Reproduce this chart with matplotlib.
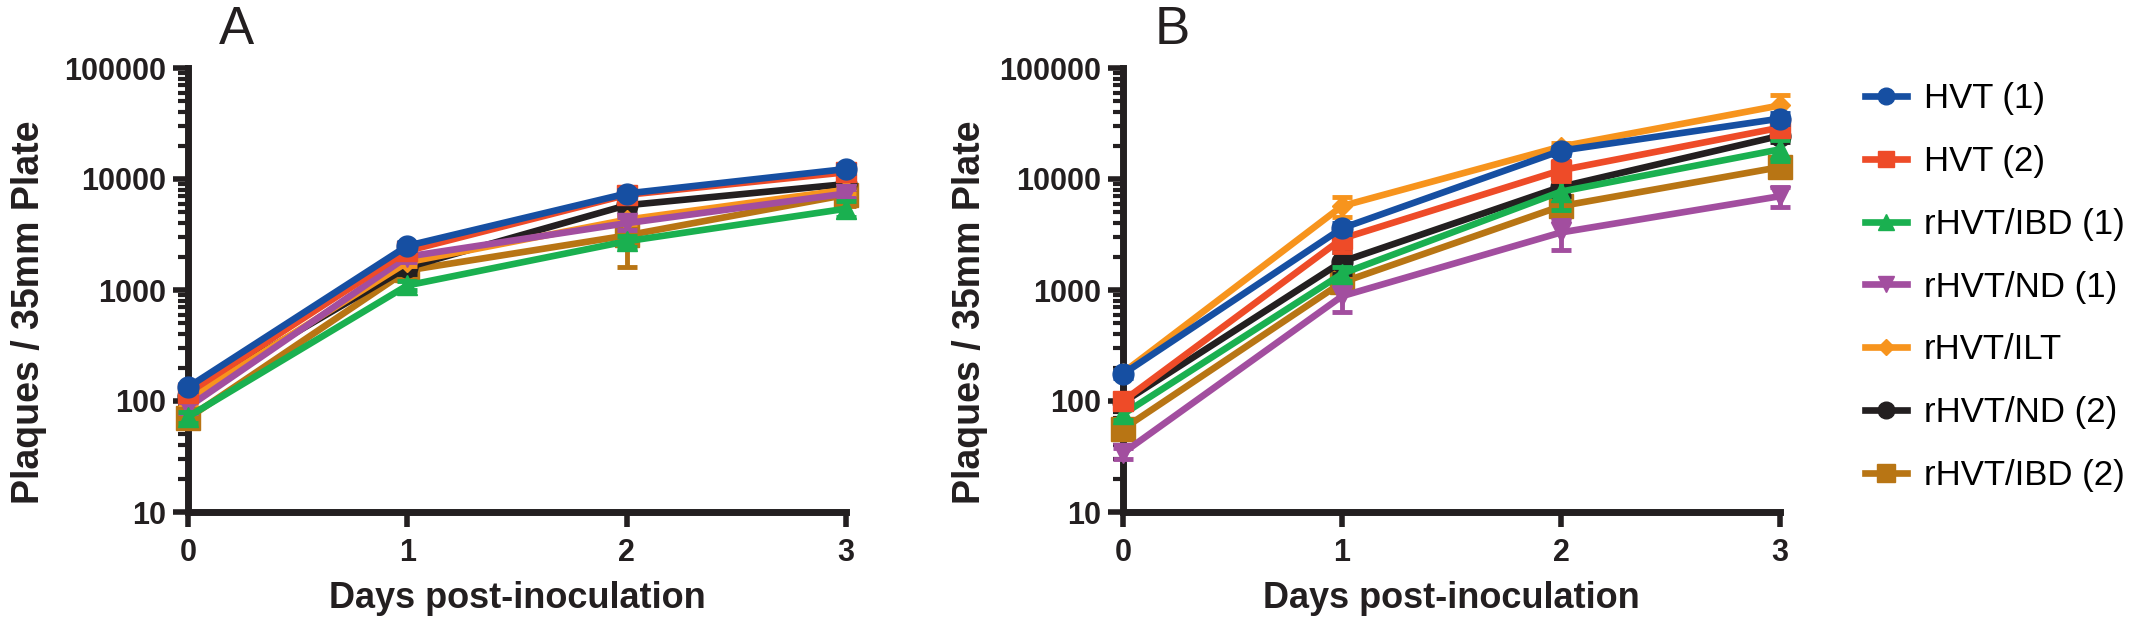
import matplotlib
matplotlib.use("Agg")
import matplotlib.pyplot as plt
from matplotlib.ticker import LogLocator, NullFormatter, FixedLocator, FixedFormatter
from matplotlib.lines import Line2D

plt.rcParams['font.family'] = ['Liberation Sans', 'DejaVu Sans']

days = [0, 1, 2, 3]
series_names = ["HVT (1)", "HVT (2)", "rHVT/IBD (1)", "rHVT/ND (1)",
                "rHVT/ILT", "rHVT/ND (2)", "rHVT/IBD (2)"]

# Panel A means and SD
a_hvt1 = [133, 2500, 7400, 12300]
a_hvt2 = [118, 2250, 7200, 11500]
a_ibd1 = [72, 1100, 2750, 5400]
a_nd1 = [88, 2000, 4000, 7400]
a_ilt = [104, 1780, 4300, 8000]
a_nd2 = [112, 1600, 5800, 9000]
a_ibd2 = [70, 1500, 3100, 7200]

a_hvt1_sd = [10, 200, 600, 1000]
a_hvt2_sd = [10, 200, 600, 1000]
a_ibd1_sd = [8, 100, 300, 900]
a_nd1_sd = [10, 200, 500, 700]
a_ilt_sd = [10, 150, 400, 600]
a_nd2_sd = [10, 200, 500, 800]
a_ibd2_sd = [10, 200, 1480, 1500]

# Panel B means and SD
b_hvt1 = [175, 3600, 18000, 35000]
b_hvt2 = [100, 2900, 12000, 29000]
b_ibd1 = [76, 1400, 7700, 18500]
b_nd1 = [34, 880, 3300, 7000]
b_ilt = [180, 5700, 19600, 46000]
b_nd2 = [97, 1800, 8500, 24500]
b_ibd2 = [56, 1170, 5700, 12800]

b_hvt1_sd = [15, 400, 1500, 4000]
b_hvt2_sd = [8, 700, 2500, 3000]
b_ibd1_sd = [8, 200, 2400, 4000]
b_nd1_sd = [4, 250, 1000, 1400]
b_ilt_sd = [10, 1200, 1500, 11000]
b_nd2_sd = [8, 400, 1500, 3000]
b_ibd2_sd = [6, 150, 1200, 1800]

y_ticks = [10, 100, 1000, 10000, 100000]
y_tick_labels = ["10", "100", "1000", "10000", "100000"]
x_tick_labels = ["0", "1", "2", "3"]

colors = ["#164FA2", "#EE4B28", "#1AB050", "#A24E9F", "#F7941D", "#231F20", "#B87514"]
markers = ["o", "s", "^", "v", "D", "o", "s"]
msizes = [15, 14, 15, 15, 10, 15, 17]

panel_a = [(a_hvt1, a_hvt1_sd), (a_hvt2, a_hvt2_sd), (a_ibd1, a_ibd1_sd), (a_nd1, a_nd1_sd),
           (a_ilt, a_ilt_sd), (a_nd2, a_nd2_sd), (a_ibd2, a_ibd2_sd)]
panel_b = [(b_hvt1, b_hvt1_sd), (b_hvt2, b_hvt2_sd), (b_ibd1, b_ibd1_sd), (b_nd1, b_nd1_sd),
           (b_ilt, b_ilt_sd), (b_nd2, b_nd2_sd), (b_ibd2, b_ibd2_sd)]

W, H = 2143, 620
fig = plt.figure(figsize=(W / 100, H / 100), dpi=100)

def fig_rect(x0, x1, ytop, ybot):
    return [x0 / W, 1 - ybot / H, (x1 - x0) / W, (ybot - ytop) / H]

axA = fig.add_axes(fig_rect(188, 846, 68, 512))
axB = fig.add_axes(fig_rect(1123, 1780, 68, 512))

def draw(ax, data, letter, letter_x, ylab_x):
    order = list(range(len(data)))[::-1]
    for i in order:
        vals, sd = data[i]
        z = 10 + (len(data) - i)
        ax.errorbar(days, vals, yerr=sd, color=colors[i], lw=4.8,
                    marker=markers[i], markersize=msizes[i], capsize=7, capthick=3.5,
                    elinewidth=3.5, zorder=z, clip_on=False)
    ax.set_yscale("log")
    ax.set_ylim(10, 100000)
    ax.set_xlim(0, 3)
    for s in ["top", "right"]:
        ax.spines[s].set_visible(False)
    for s in ["left", "bottom"]:
        ax.spines[s].set_linewidth(5)
        ax.spines[s].set_color("#231F20")
    ax.yaxis.set_major_locator(FixedLocator(y_ticks))
    ax.yaxis.set_major_formatter(FixedFormatter(y_tick_labels))
    ax.yaxis.set_minor_locator(LogLocator(base=10, subs=range(2, 10)))
    ax.yaxis.set_minor_formatter(NullFormatter())
    ax.set_xticks(days)
    ax.set_xticklabels(x_tick_labels)
    ax.tick_params(axis="both", which="major", length=11, width=4, color="#231F20",
                   labelsize=22, pad=5)
    ax.tick_params(axis="x", which="major", pad=8)
    ax.tick_params(axis="y", which="minor", length=7, width=3, color="#231F20")
    for lab in ax.get_xticklabels() + ax.get_yticklabels():
        lab.set_fontweight("bold")
        lab.set_color("#231F20")
    ax.set_xlabel("Days post-inoculation", fontsize=26, fontweight="bold",
                  color="#231F20")
    ax.xaxis.set_label_coords(0.5, -0.155)
    ax.set_ylabel("Plaques / 35mm Plate", fontsize=27, fontweight="bold",
                  color="#231F20")
    ax.yaxis.set_label_coords(ylab_x, 0.45)
    fig.text(letter_x / W, 1 - 30 / H, letter, fontsize=38, ha="center", va="center",
             color="#231F20")

draw(axA, panel_a, "A", 236, -0.214)
draw(axB, panel_b, "B", 1172, -0.205)

handles = [Line2D([0], [0], color=colors[i], lw=4.8, marker=markers[i],
                  markersize=msizes[i] * 0.8) for i in range(len(series_names))]
fig.legend(handles, series_names, loc="upper left", bbox_to_anchor=(1865 / W, 1 - 82 / H),
           frameon=False, fontsize=25, handlelength=1.2, handletextpad=0.5,
           labelspacing=0.86, borderaxespad=0, borderpad=0)

fig.savefig("out.png", dpi=100, facecolor="white")
